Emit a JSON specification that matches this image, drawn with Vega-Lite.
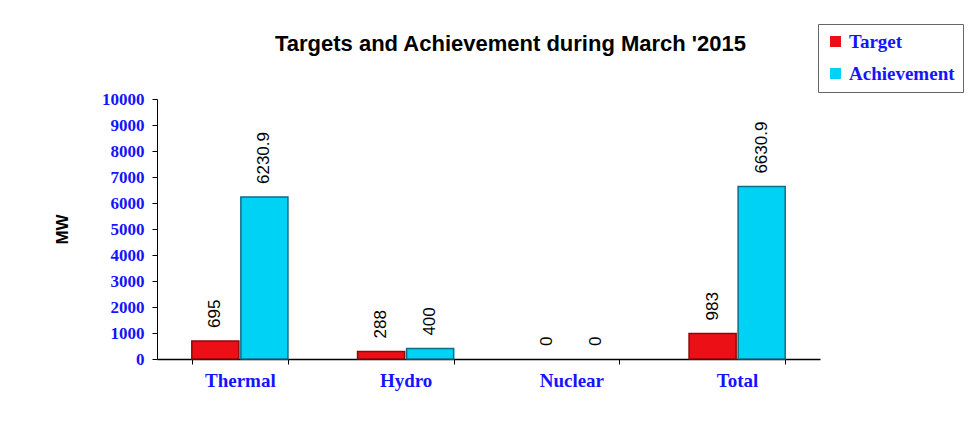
{
  "$schema": "https://vega.github.io/schema/vega-lite/v6.json",
  "autosize": {"type": "none"},
  "width": 663,
  "height": 260,
  "padding": {"left": 157, "top": 99, "right": 154, "bottom": 81},
  "background": "white",
  "config": {"view": {"stroke": null}},
  "title": {
    "text": "Targets and Achievement during March '2015",
    "font": "Liberation Sans",
    "fontSize": 22,
    "fontWeight": "bold",
    "color": "black",
    "dx": 22,
    "offset": -32
  },
  "data": {
    "values": [
      {"category": "Thermal", "series": "Target", "value": 695},
      {"category": "Thermal", "series": "Achievement", "value": 6230.9},
      {"category": "Hydro", "series": "Target", "value": 288},
      {"category": "Hydro", "series": "Achievement", "value": 400},
      {"category": "Nuclear", "series": "Target", "value": 0},
      {"category": "Nuclear", "series": "Achievement", "value": 0},
      {"category": "Total", "series": "Target", "value": 983},
      {"category": "Total", "series": "Achievement", "value": 6630.9}
    ]
  },
  "encoding": {
    "x": {
      "field": "category",
      "type": "nominal",
      "sort": ["Thermal", "Hydro", "Nuclear", "Total"],
      "scale": {"paddingInner": 0.42, "paddingOuter": 0.21},
      "axis": {
        "title": null,
        "labelAngle": 0,
        "labelFont": "Liberation Serif",
        "labelFontSize": 19,
        "labelFontWeight": "bold",
        "labelColor": "#1414ff",
        "labelPadding": 7,
        "tickBand": "extent",
        "tickColor": "black",
        "tickSize": 5,
        "domainColor": "black",
        "domainWidth": 1.5
      }
    },
    "xOffset": {
      "field": "series",
      "type": "nominal",
      "sort": ["Target", "Achievement"],
      "scale": {"paddingInner": 0.04}
    },
    "y": {
      "field": "value",
      "type": "quantitative",
      "scale": {"domain": [0, 10000]},
      "axis": {
        "title": "MW",
        "titleFont": "Liberation Sans",
        "titleFontSize": 17,
        "titleFontWeight": "bold",
        "titleColor": "black",
        "titlePadding": 30,
        "values": [0, 1000, 2000, 3000, 4000, 5000, 6000, 7000, 8000, 9000, 10000],
        "format": "d",
        "grid": false,
        "labelFont": "Liberation Serif",
        "labelFontSize": 17,
        "labelFontWeight": "bold",
        "labelColor": "#1414ff",
        "labelPadding": 8,
        "tickColor": "black",
        "tickSize": 5,
        "domainColor": "black"
      }
    }
  },
  "layer": [
    {
      "mark": {"type": "bar", "strokeWidth": 1.5},
      "encoding": {
        "color": {
          "field": "series",
          "type": "nominal",
          "sort": ["Target", "Achievement"],
          "scale": {"domain": ["Target", "Achievement"], "range": ["#ec0f16", "#00d2f5"]},
          "legend": {
            "title": null,
            "orient": "none",
            "legendX": 661,
            "legendY": -75,
            "symbolType": "square",
            "symbolSize": 120,
            "symbolStrokeWidth": 0,
            "labelFont": "Liberation Serif",
            "labelFontSize": 19,
            "labelFontWeight": "bold",
            "labelColor": "#1414ff",
            "labelOffset": 4,
            "rowPadding": 12,
            "padding": 8,
            "strokeColor": "#666666",
            "fillColor": "white"
          }
        },
        "stroke": {
          "condition": {"test": "datum.value == 0", "value": "transparent"},
          "field": "series",
          "type": "nominal",
          "scale": {"domain": ["Target", "Achievement"], "range": ["#8a0a0a", "#0a6f86"]},
          "legend": null
        }
      }
    },
    {
      "mark": {
        "type": "text",
        "angle": 270,
        "align": "left",
        "baseline": "middle",
        "dx": 13,
        "font": "Liberation Sans",
        "fontSize": 17,
        "color": "black"
      },
      "encoding": {
        "text": {"field": "value", "type": "quantitative", "format": "~g"}
      }
    }
  ]
}
